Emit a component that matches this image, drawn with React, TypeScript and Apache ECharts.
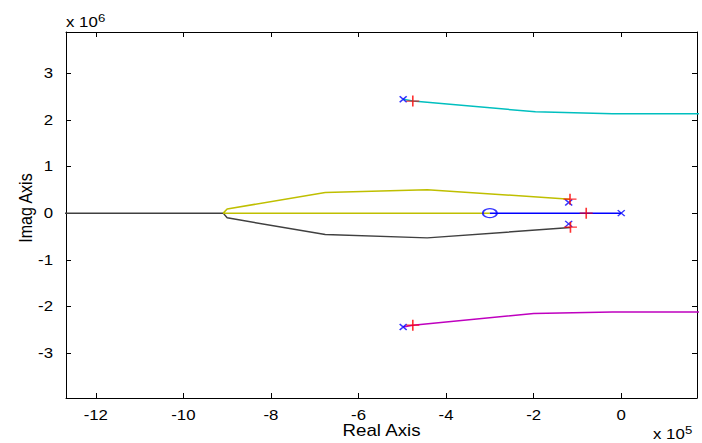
import { useEffect, useRef } from "react";
import * as echarts from "echarts";

// Root locus. Real axis values are in units of 1e5, imaginary in units of 1e6.
const X_TICKS = [-12, -10, -8, -6, -4, -2, 0];
const Y_TICKS = [-3, -2, -1, 0, 1, 2, 3];
const X_MIN = -12.68;
const X_MAX = 1.73;
const Y_MIN = -3.96;
const Y_MAX = 3.88;

// open-loop poles (x) and zero (o)
const POLES = [
  [0, 0],
  [-1.2, 0.23],
  [-1.2, -0.23],
  [-4.98, 2.44],
  [-4.98, -2.44],
];
const ZEROS = [[-3.0, 0]];

// closed-loop poles at the selected gain (+)
const GAIN_POINTS = [
  [-0.8, 0],
  [-1.17, 0.3],
  [-1.16, -0.3],
  [-4.76, 2.4],
  [-4.76, -2.4],
];

// locus branches
const BRANCH_CYAN = [
  [-4.98, 2.44],
  [-4.76, 2.4],
  [-1.96, 2.17],
  [-0.2, 2.13],
  [3.0, 2.13],
];
const BRANCH_MAGENTA = [
  [-4.98, -2.44],
  [-4.76, -2.4],
  [-2.0, -2.15],
  [-0.2, -2.12],
  [3.0, -2.12],
];
const BRANCH_YELLOW = [
  [-1.17, 0.3],
  [-4.43, 0.5],
  [-6.76, 0.44],
  [-9.0, 0.09],
  [-9.09, 0],
  [-3.0, 0],
];
const BRANCH_DARK = [
  [-1.16, -0.31],
  [-4.43, -0.53],
  [-6.76, -0.46],
  [-9.0, -0.1],
  [-9.09, 0],
  [-14.0, 0],
];
const BRANCH_BLUE = [
  [0, 0],
  [-3.0, 0],
];

const FONT = '"Liberation Sans", Arial, sans-serif';
const STRETCH = 1.2;

const CROSS = "path://M0,0L1,1M1,0L0,1";
const PLUS = "path://M0,0.5L1,0.5M0.5,0L0.5,1";

function branch(data: number[][], color: string) {
  return {
    type: "line",
    data,
    showSymbol: false,
    symbol: "none",
    lineStyle: { color, width: 1.5 },
    silent: true,
    z: 2,
  };
}

export default function App() {
  const ref = useRef<HTMLDivElement>(null);

  useEffect(() => {
    const chart = echarts.init(ref.current!, null, { renderer: "svg" });

    const frameAxis = (position: string, extra: any = {}) => ({
      type: "value",
      position,
      axisLine: { show: true, onZero: false, lineStyle: { color: "#000", width: 1 } },
      axisTick: { show: true, inside: true, length: 5, lineStyle: { color: "#000" }, ...extra.tick },
      axisLabel: { show: false },
      splitLine: { show: false },
      ...extra.range,
    });

    chart.setOption({
      animation: false,
      backgroundColor: "#fff",
      grid: { left: 66, right: 5, top: 32, bottom: 45 },
      xAxis: [
        frameAxis("bottom", { tick: { customValues: X_TICKS }, range: { min: X_MIN, max: X_MAX } }),
        frameAxis("top", { tick: { customValues: X_TICKS }, range: { min: X_MIN, max: X_MAX } }),
      ],
      yAxis: [
        frameAxis("left", { tick: { customValues: Y_TICKS }, range: { min: Y_MIN, max: Y_MAX } }),
        frameAxis("right", { tick: { customValues: Y_TICKS }, range: { min: Y_MIN, max: Y_MAX } }),
      ],
      series: [
        branch(BRANCH_DARK, "#404040"),
        branch(BRANCH_YELLOW, "#bfbf00"),
        branch(BRANCH_CYAN, "#00bfbf"),
        branch(BRANCH_MAGENTA, "#bf00bf"),
        branch(BRANCH_BLUE, "#0000ff"),
        {
          type: "scatter",
          data: POLES,
          symbol: CROSS,
          symbolSize: [7, 6],
          itemStyle: { color: "none", borderColor: "#0000ff", borderWidth: 1.5 },
          silent: true,
          z: 3,
        },
        {
          type: "scatter",
          data: ZEROS,
          symbol: "circle",
          symbolSize: [14, 9],
          itemStyle: { color: "none", borderColor: "#0000ff", borderWidth: 1.5 },
          silent: true,
          z: 3,
        },
        {
          type: "scatter",
          data: GAIN_POINTS,
          symbol: PLUS,
          symbolSize: [13, 11],
          itemStyle: { color: "none", borderColor: "#ff0000", borderWidth: 1.5 },
          silent: true,
          z: 4,
        },
      ],
    });

    const xPix = (v: number) => chart.convertToPixel({ xAxisIndex: 0 }, v) as number;
    const yPix = (v: number) => chart.convertToPixel({ yAxisIndex: 0 }, v) as number;
    const bottom = yPix(Y_MIN);
    const left = xPix(X_MIN);
    const right = xPix(X_MAX);
    const top = yPix(Y_MAX);

    const text = (
      t: string,
      x: number,
      y: number,
      size: number,
      align: string,
      extra: any = {}
    ) => ({
      type: "text",
      x,
      y,
      scaleX: STRETCH,
      silent: true,
      ...extra,
      style: {
        text: t,
        font: `${size}px ${FONT}`,
        fill: "#000",
        align,
        verticalAlign: "middle",
        textAlign: align,
        textVerticalAlign: "middle",
      },
    });

    const graphic: any[] = [];
    X_TICKS.forEach((v) => graphic.push(text(String(v), xPix(v), bottom + 17, 14, "center")));
    Y_TICKS.forEach((v) => graphic.push(text(String(v), left - 13, yPix(v), 14, "right")));
    graphic.push(text("Real Axis", (left + right) / 2, bottom + 32, 16, "center", { scaleX: 1.17 }));
    graphic.push(
      text("Imag Axis", 26, (top + bottom) / 2 - 7, 16, "center", {
        rotation: Math.PI / 2,
        scaleX: 1,
        scaleY: 1.17,
      })
    );
    // axis multipliers
    graphic.push(text("x 10", left, top - 10, 14, "left"));
    graphic.push(text("6", left + 32, top - 14, 11, "left"));
    graphic.push(text("x 10", right - 44, bottom + 36, 14, "left"));
    graphic.push(text("5", right - 12, bottom + 32, 11, "left"));

    chart.setOption({ graphic });

    return () => chart.dispose();
  }, []);

  return (
    <div
      ref={ref}
      style={{ position: "fixed", left: 0, top: 0, width: 702, height: 443, background: "#fff" }}
    />
  );
}
